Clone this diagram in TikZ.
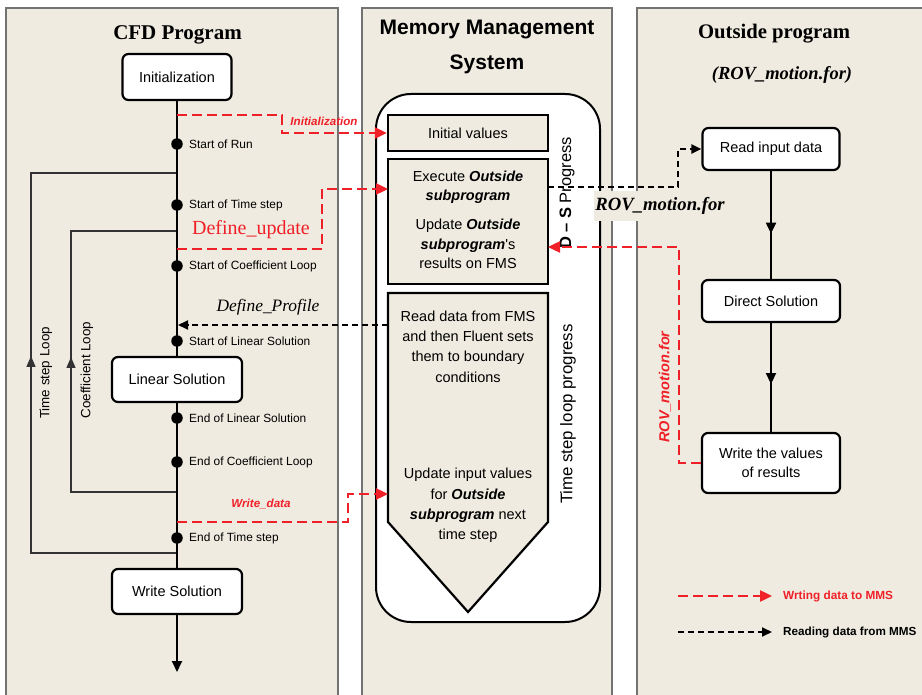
\documentclass[tikz,border=0pt]{standalone}
\usepackage{fontspec}
\setmainfont{Liberation Serif}
\newfontfamily\arial{Liberation Sans}
\usetikzlibrary{arrows.meta,decorations.markings}
\definecolor{beige}{RGB}{239,235,224}
\definecolor{myred}{RGB}{240,32,40}
\definecolor{panelgray}{RGB}{115,115,115}
\tikzset{
  panel/.style={draw=panelgray, line width=1.4pt, fill=beige},
  rbox/.style={draw=black, line width=2.2pt, rounded corners=6pt, fill=white, align=center, inner sep=0pt,
    font=\arial\fontsize{14.5}{19.5}\selectfont},
  mbox/.style={draw=black, line width=2.2pt, fill=beige, align=center, inner sep=0pt,
    font=\arial\fontsize{14.5}{19.5}\selectfont},
  mtext/.style={align=center, inner sep=0pt, font=\arial\fontsize{14.5}{20.3}\selectfont},
  dotnode/.style={circle, fill=black, inner sep=0pt, minimum size=11.5pt},
  slabel/.style={anchor=west, inner sep=0pt, font=\arial\fontsize{11.9}{14}\selectfont},
  mainline/.style={line width=2pt, draw=black},
  loopline/.style={line width=1.4pt, draw=black!80},
  looptip/.style={line width=1.4pt, draw=black!80, -{Triangle[length=11pt,width=9pt]}},
  reddash/.style={draw=myred, line width=2.4pt, dash pattern=on 10pt off 5pt},
  blackdash/.style={draw=black, line width=2pt, dash pattern=on 6pt off 4pt},
  redtip/.style={-{Triangle[length=12pt,width=11pt]}},
  blacktip/.style={-{Triangle[length=10pt,width=9pt]}},
  redlbl/.style={inner sep=0pt, text=myred, font=\arial\bfseries\itshape\fontsize{11.6}{14}\selectfont},
  rotlbl/.style={rotate=90, inner sep=0pt, font=\arial\fontsize{13.4}{16}\selectfont},
  midarrow/.style={postaction={decorate, decoration={markings,
     mark=at position #1 with {\arrow{Triangle[length=11pt,width=10pt]}}}}}
}
\begin{document}
\begin{tikzpicture}[x=1pt,y=-1pt]
\path[use as bounding box] (0,0) rectangle (922,695);
\clip (0,0) rectangle (922,695);
\fill[white] (0,0) rectangle (922,695);

% panels
\draw[panel] (6,8) rectangle (338,710);
\draw[panel] (362,8) rectangle (612,710);
\draw[panel] (637,8) rectangle (940,710);

% titles
\node[font=\bfseries\fontsize{21}{24}\selectfont] (t1) at (177.5,35) {CFD Program};
\node[font=\arial\bfseries\fontsize{21}{35}\selectfont, align=center] (t2) at (487,47) {Memory Management\\System};
\node[font=\bfseries\fontsize{20.7}{24}\selectfont] (t3) at (774,34) {Outside program};
\node[font=\bfseries\itshape\fontsize{18.5}{22}\selectfont] (t3b) at (782,75) {(ROV\_motion.for)};

% ---------- CFD program ----------
\node[rbox, minimum width=109pt, minimum height=46pt] (init) at (177,77) {Initialization};
\node[rbox, minimum width=130pt, minimum height=45pt] (lin) at (177,379.5) {Linear Solution};
\node[rbox, minimum width=130pt, minimum height=45pt] (ws) at (177,591.5) {Write Solution};
\coordinate (bottom) at (177,672);

\coordinate (tsT) at (177,173);
\coordinate (tsB) at (177,553);
\coordinate (cfT) at (177,231);
\coordinate (cfB) at (177,492);
\draw[loopline] (tsB) -- (31,553) -- (31,173) -- (tsT);
\draw[loopline] (cfB) -- (71,492) -- (71,231) -- (cfT);
\draw[looptip] (31,375) -- (31,356);
\draw[looptip] (71,375) -- (71,357);
\node[rotlbl] (tsl) at (46,373) {Time step Loop};
\node[rotlbl] (cfl) at (87,370) {Coefficient Loop};

\draw[mainline] (init.south) -- (lin.north);
\draw[mainline] (lin.south) -- (ws.north);
\draw[mainline, -{Triangle[length=11pt,width=10pt]}] (ws.south) -- (bottom);

\foreach \yy/\tt/\nn in {144/Start of Run/d1, 205/Start of Time step/d2, 266/Start of Coefficient Loop/d3,
   341/Start of Linear Solution/d4, 418/End of Linear Solution/d5, 462/End of Coefficient Loop/d6,
   538/End of Time step/d7}{
  \node[dotnode] (\nn) at (177,\yy) {};
  \node[slabel] (\nn l) at (189,\yy) {\tt};
}

% ---------- Memory management system ----------
\node[draw=black, line width=2pt, fill=white, rounded corners=35pt,
      minimum width=224pt, minimum height=528pt, inner sep=0pt] (mms) at (488,358) {};
\node[mbox, minimum width=160pt, minimum height=36pt] (iv) at (468,133) {Initial values};
\node[mbox, minimum width=160pt, minimum height=125pt] (ex) at (468,221.5) {};
\node[mtext, font=\arial\fontsize{14.5}{19.5}\selectfont] (ext) at (468,220)
  {Execute \textbf{\textit{Outside}}\\\textbf{\textit{subprogram}}\\[9.5pt]
   Update \textbf{\textit{Outside}}\\\textbf{\textit{subprogram}}'s\\results on FMS};
\draw[line width=2.2pt, fill=beige, line join=miter] (388,293) -- (548,293) -- (548,522) -- (468,612) -- (388,522) -- cycle;
\coordinate (penL1) at (388,325);
\coordinate (penL2) at (388,494);
\node[mtext] (rd) at (468,346.5) {Read data from FMS\\and then Fluent sets\\them to boundary\\conditions};
\node[mtext] (upd) at (468,505.5) {Update input values\\for \textbf{\textit{Outside}}\\\textbf{\textit{subprogram}} next\\time step};
\node[rotate=90, inner sep=0pt, font=\arial\fontsize{16.5}{18}\selectfont] (dsp) at (567,193) {\textbf{D – S} Progress};
\node[rotate=90, inner sep=0pt, font=\arial\fontsize{16.8}{18}\selectfont] (tslp) at (568,414) {Time step loop progress};

% ---------- Outside program ----------
\node[rbox, minimum width=137pt, minimum height=42pt] (rid) at (771,149) {Read input data};
\node[rbox, minimum width=138pt, minimum height=42pt] (dsol) at (771,301) {Direct Solution};
\node[rbox, minimum width=138pt, minimum height=60pt] (wv) at (771,463) {Write the values\\of results};
\draw[mainline, midarrow=0.58] (rid.south) -- (dsol.north);
\draw[mainline, midarrow=0.56] (dsol.south) -- (wv.north);

% ---------- data connectors ----------
\coordinate (initOut) at (177,115);
\draw[reddash, redtip] (initOut) -- (282,115) -- (282,133) -- (iv.west);
\node[redlbl] (lInit) at (324,121) {Initialization};

\coordinate (duOut) at (177,249);
\coordinate (exIn) at (388,189);
\draw[reddash, redtip] (duOut) -- (322,249) -- (322,189) -- (exIn);
\node[text=myred, inner sep=0pt, font=\fontsize{20}{22}\selectfont] (lDu) at (251,230) {Define\_update};

\coordinate (dpIn) at (178,325);
\draw[blackdash, blacktip] (penL1) -- (dpIn);
\node[inner sep=0pt, font=\itshape\fontsize{17.4}{20}\selectfont] (lDp) at (268,307) {Define\_Profile};

\coordinate (wdOut) at (177,522);
\draw[reddash, redtip] (wdOut) -- (348,522) -- (348,494) -- (penL2);
\node[redlbl] (lWd) at (261,504) {Write\_data};

\coordinate (exOut) at (548,187);
\draw[blackdash, blacktip] (exOut) -- (678,187) -- (678,149) -- (rid.west);
\node[fill=beige, inner xsep=1pt, inner ysep=6pt, font=\bfseries\itshape\fontsize{18.7}{21}\selectfont] (lRov) at (660,206) {ROV\_motion.for};

\coordinate (exIn2) at (548,247);
\draw[reddash, redtip] (wv.west) -- (679,463) -- (679,247) -- (exIn2);
\node[rotate=90, inner sep=0pt, text=myred, font=\arial\bfseries\itshape\fontsize{14.5}{16}\selectfont] (lRov2) at (665,387) {ROV\_motion.for};

% ---------- legend ----------
\coordinate (lg1a) at (678,596);
\coordinate (lg1b) at (772,596);
\coordinate (lg2a) at (678,632);
\coordinate (lg2b) at (772,632);
\draw[reddash, redtip] (lg1a) -- (lg1b);
\draw[blackdash, blacktip] (lg2a) -- (lg2b);
\node[anchor=west, inner sep=0pt, text=myred, font=\arial\bfseries\fontsize{11.8}{14}\selectfont] (lg1t) at (783,596) {Wrting data to MMS};
\node[anchor=west, inner sep=0pt, font=\arial\bfseries\fontsize{11.7}{14}\selectfont] (lg2t) at (783,632) {Reading data from MMS};
\end{tikzpicture}
\end{document}
